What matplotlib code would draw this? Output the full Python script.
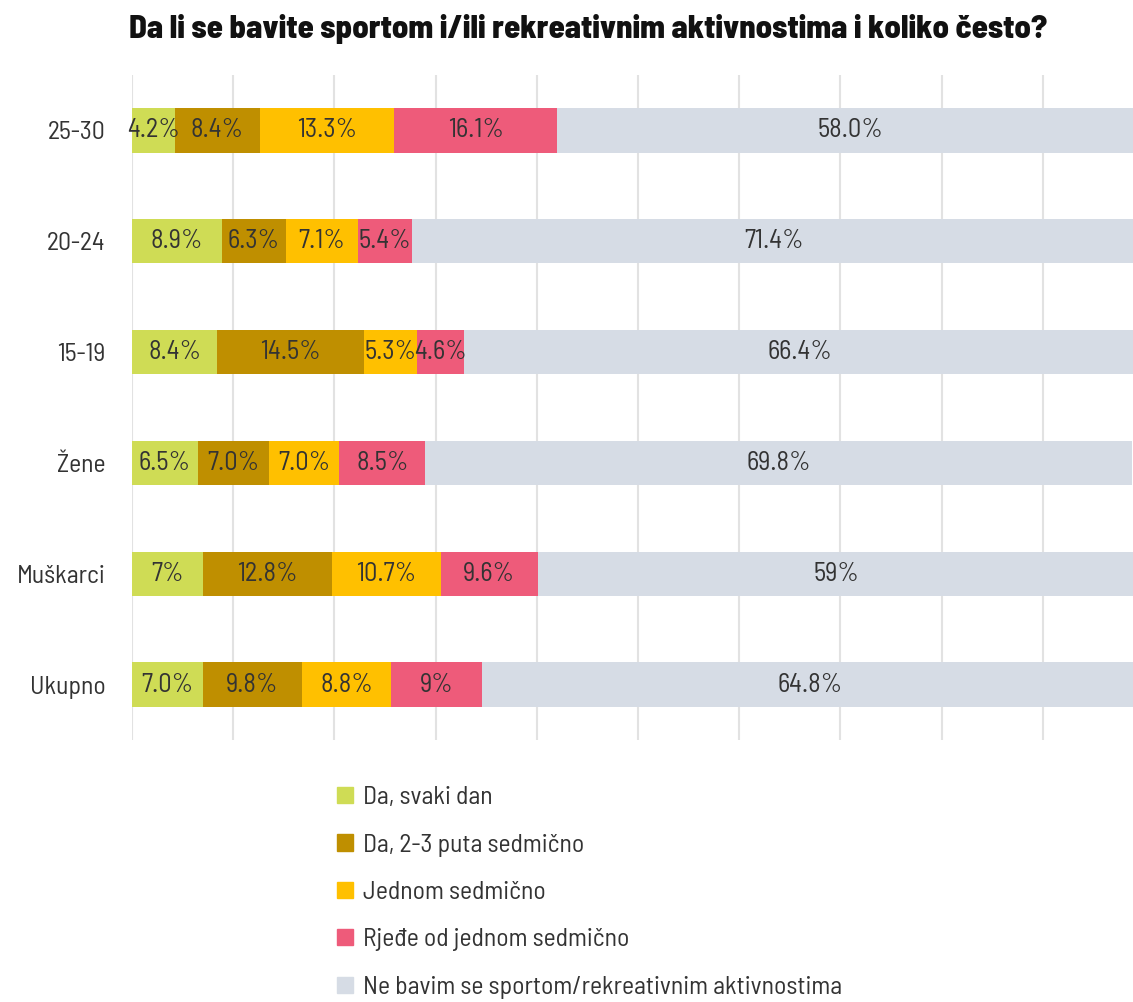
import matplotlib.pyplot as plt
from matplotlib.patches import Rectangle
import numpy as np

plt.rcParams['font.family'] = ['Barlow Semi Condensed', 'DejaVu Sans']

groups = ["Ukupno", "Muškarci", "Žene", "15-19", "20-24", "25-30"]
series = ["Da, svaki dan", "Da, 2-3 puta sedmično", "Jednom sedmično",
          "Rjeđe od jednom sedmično", "Ne bavim se sportom/rekreativnim aktivnostima"]
svaki_dan = [7.0, 7.0, 6.5, 8.4, 8.9, 4.2]
puta_2_3 = [9.8, 12.8, 7.0, 14.5, 6.3, 8.4]
jednom = [8.8, 10.7, 7.0, 5.3, 7.1, 13.3]
rjede = [9.0, 9.6, 8.5, 4.6, 5.4, 16.1]
ne_bavim = [64.8, 59.0, 69.8, 66.4, 71.4, 58.0]
labels = [
    ["7.0%", "7%", "6.5%", "8.4%", "8.9%", "4.2%"],
    ["9.8%", "12.8%", "7.0%", "14.5%", "6.3%", "8.4%"],
    ["8.8%", "10.7%", "7.0%", "5.3%", "7.1%", "13.3%"],
    ["9%", "9.6%", "8.5%", "4.6%", "5.4%", "16.1%"],
    ["64.8%", "59%", "69.8%", "66.4%", "71.4%", "58.0%"],
]
colors = ["#cfdc55", "#bf8f00", "#ffc000", "#ee5b7a", "#d6dce5"]

fig = plt.figure(figsize=(11.33, 10.02), dpi=100)
ax = fig.add_axes([132 / 1133, 1 - 740 / 1002, 1012 / 1133, 665 / 1002])

y = np.arange(len(groups))
left = np.zeros(len(groups))
for vals, col, lab in zip([svaki_dan, puta_2_3, jednom, rjede, ne_bavim], colors, labels):
    vals = np.array(vals)
    ax.barh(y, vals, left=left, height=0.4, color=col, zorder=2)
    for i in range(len(groups)):
        ax.text(left[i] + vals[i] / 2, y[i], lab[i], ha="center", va="center",
                fontsize=19, color="#333333", zorder=3)
    left += vals

ax.set_xlim(0, 100)
ax.set_ylim(-0.5, len(groups) - 0.5)
ax.set_xticks(np.arange(0, 101, 10))
ax.set_xticklabels([])
ax.grid(axis="x", color="#e2e2e2", linewidth=1.5, zorder=0)
ax.set_axisbelow(True)
ax.set_yticks(y)
ax.set_yticklabels(groups, fontsize=18.5, color="#333333")
ax.tick_params(length=0, pad=19)
for s in ax.spines.values():
    s.set_visible(False)

fig.text(588 / 1133, 1 - 29 / 1002, "Da li se bavite sportom i/ili rekreativnim aktivnostima i koliko često?",
         ha="center", va="center", fontsize=23.5, fontweight=800, color="#111111")

handles = [Rectangle((0, 0), 1, 1, color=c) for c in colors]
fig.legend(handles, series, loc="upper left", bbox_to_anchor=(314 / 1133, 1 - 763 / 1002),
           frameon=False, handlelength=0.6, handleheight=0.6,
           handletextpad=0.4, labelspacing=0.95, labelcolor="#333333",
           prop={"size": 18.5})

fig.savefig("out.png", dpi=100)
